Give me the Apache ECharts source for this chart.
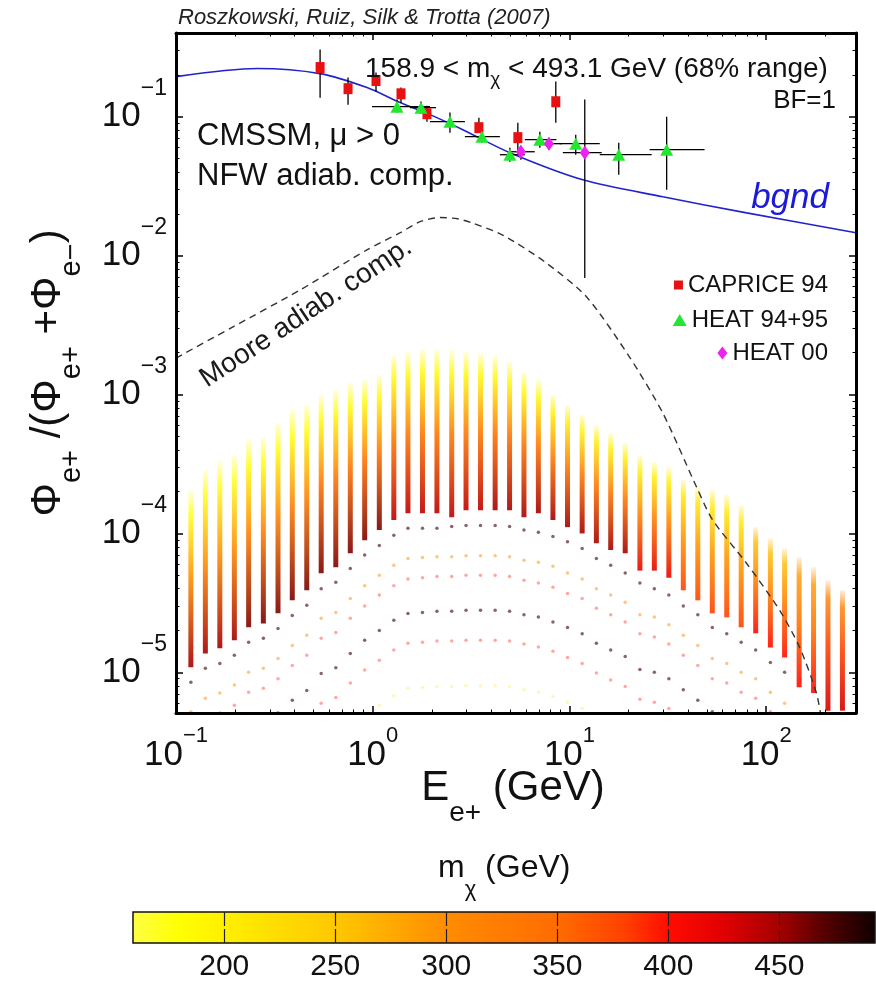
<!DOCTYPE html>
<html><head><meta charset="utf-8">
<script src="https://cdn.jsdelivr.net/npm/echarts@6/dist/echarts.min.js"></script>
<style>html,body{margin:0;padding:0;background:#fff}#chart{width:876px;height:985px}</style>
</head><body><div id="chart"></div>
<script>
// ================= DATA =================
// axis ranges / ticks
const xRange = [0.1, 286];
const yRange = [5.1e-6, 0.40];
const xMajor = [0.1, 1, 10, 100];
const xMinor = [0.2,0.3,0.4,0.5,0.6,0.7,0.8,0.9,2,3,4,5,6,7,8,9,20,30,40,50,60,70,80,90,200];
const yMajor = [1e-5, 1e-4, 1e-3, 1e-2, 1e-1];
const yMinor = [6e-6,7e-6,8e-6,9e-6,2e-5,3e-5,4e-5,5e-5,6e-5,7e-5,8e-5,9e-5,
  2e-4,3e-4,4e-4,5e-4,6e-4,7e-4,8e-4,9e-4,2e-3,3e-3,4e-3,5e-3,6e-3,7e-3,8e-3,9e-3,
  2e-2,3e-2,4e-2,5e-2,6e-2,7e-2,8e-2,9e-2,0.2,0.3];
const cbarRange = [158.9, 493.1];
const cbarTicks = [200, 250, 300, 350, 400, 450];

// model scan: energy columns, dense band top/bottom, neutralino mass along band
const stripeE = [0.119,0.141,0.167,0.198,0.234,0.278,0.330,0.390,0.462,0.547,0.649,0.769,0.910,1.08,1.28,1.51,1.79,2.12,2.52,2.98,3.53,4.19,4.96,5.87,6.95,8.24,9.77,11.6,13.7,16.2,19.2,22.8,27.0,32.0,37.9,44.9,53.2,63.0,74.6,88.4,105,124,147,174,206,244];
const stripeTop = [2.05e-4,2.86e-4,3.37e-4,3.66e-4,4.70e-4,4.94e-4,6.23e-4,7.73e-4,8.40e-4,9.92e-4,1.08e-3,1.21e-3,1.27e-3,1.38e-3,1.93e-3,2.02e-3,2.09e-3,2.09e-3,2.09e-3,2.02e-3,1.99e-3,1.90e-3,1.72e-3,1.45e-3,1.27e-3,9.92e-4,8.40e-4,7.12e-4,6.03e-4,5.28e-4,4.47e-4,3.66e-4,3.26e-4,3.00e-4,2.42e-4,2.15e-4,2.05e-4,1.89e-4,1.60e-4,1.11e-4,9.24e-5,7.83e-5,6.74e-5,5.71e-5,4.60e-5,3.90e-5];
const stripeBottom = [1.09e-5,1.37e-5,1.49e-5,1.70e-5,2.11e-5,2.25e-5,2.66e-5,3.30e-5,3.90e-5,5.17e-5,5.71e-5,7.21e-5,8.94e-5,1.06e-4,1.25e-4,1.40e-4,1.40e-4,1.40e-4,1.31e-4,1.47e-4,1.47e-4,1.47e-4,1.47e-4,1.31e-4,1.40e-4,1.25e-4,1.11e-4,1.00e-4,8.5e-5,7.6e-5,7.2e-5,5.4e-5,5.4e-5,4.8e-5,3.9e-5,3.3e-5,2.66e-5,2.49e-5,2.11e-5,1.91e-5,1.51e-5,1.28e-5,7.8e-6,7.1e-6,5.3e-6,5.3e-6];
const stripeMassTop = [175,175,175,175,180,180,180,180,180,185,185,185,185,185,185,185,185,185,185,185,185,190,190,190,190,200,200,200,200,200,200,200,200,200,210,210,210,210,210,260,260,260,290,290,320,320];
const stripeMassMid = [300,300,300,300,320,320,320,320,320,340,340,340,340,340,330,330,330,330,330,330,330,340,340,340,340,330,330,330,330,330,330,310,310,310,290,290,290,290,290,320,320,320,340,340,380,380];
const stripeMassBot = [450,450,450,450,460,460,460,460,460,460,460,460,460,460,440,440,440,440,440,440,440,450,450,450,450,450,450,450,450,450,450,420,420,420,380,380,380,380,380,400,400,400,400,400,430,430];

// sparse model points below the dense band (one value per energy column)
const arcA = [8.5e-6,1.07e-5,1.16e-5,1.33e-5,1.65e-5,1.76e-5,2.07e-5,2.57e-5,3.04e-5,4.0e-5,4.45e-5,5.6e-5,7.0e-5,8.2e-5,9.7e-5,1.09e-4,1.09e-4,1.09e-4,1.12e-4,1.14e-4,1.14e-4,1.14e-4,1.12e-4,1.06e-4,1.02e-4,9.5e-5,8.7e-5,7.8e-5,6.6e-5,5.9e-5,5.2e-5,4.4e-5,4.0e-5,3.6e-5,3.0e-5,2.6e-5,2.1e-5,1.9e-5,1.65e-5,1.45e-5,1.18e-5,1.0e-5,null,null,null,null];
const arcB = [5.2e-6,6.5e-6,7.1e-6,8.1e-6,1.0e-5,1.07e-5,1.26e-5,1.56e-5,1.85e-5,2.45e-5,2.7e-5,3.4e-5,4.2e-5,5.0e-5,5.9e-5,6.6e-5,6.7e-5,6.8e-5,6.8e-5,6.9e-5,6.9e-5,6.9e-5,6.8e-5,6.4e-5,6.2e-5,5.8e-5,5.2e-5,4.7e-5,4.0e-5,3.6e-5,3.2e-5,2.6e-5,2.5e-5,2.2e-5,1.85e-5,1.56e-5,1.26e-5,1.16e-5,1.0e-5,9.0e-6,7.2e-6,6.0e-6,null,null,null,null];
const arcC = [null,null,5.1e-6,5.8e-6,7.2e-6,7.7e-6,9.0e-6,1.12e-5,1.33e-5,1.76e-5,1.94e-5,2.45e-5,3.0e-5,3.6e-5,4.2e-5,4.7e-5,4.8e-5,4.9e-5,4.9e-5,5.0e-5,5.0e-5,5.0e-5,4.9e-5,4.6e-5,4.4e-5,4.1e-5,3.7e-5,3.4e-5,2.9e-5,2.6e-5,2.3e-5,1.9e-5,1.8e-5,1.6e-5,1.33e-5,1.12e-5,9.0e-6,8.4e-6,7.2e-6,6.5e-6,5.2e-6,null,null,null,null,null];
const arcD = [null,null,null,null,null,null,5.1e-6,6.3e-6,7.4e-6,9.8e-6,1.08e-5,1.37e-5,1.7e-5,2.0e-5,2.37e-5,2.65e-5,2.7e-5,2.75e-5,2.75e-5,2.8e-5,2.8e-5,2.8e-5,2.75e-5,2.6e-5,2.5e-5,2.3e-5,2.1e-5,1.9e-5,1.62e-5,1.45e-5,1.3e-5,1.05e-5,1.0e-5,9.0e-6,7.5e-6,6.3e-6,5.2e-6,null,null,null,null,null,null,null,null,null];
const arcE = [null,null,null,null,null,null,null,null,null,6.0e-6,6.6e-6,8.4e-6,1.04e-5,1.22e-5,1.45e-5,1.62e-5,1.65e-5,1.68e-5,1.68e-5,1.7e-5,1.7e-5,1.7e-5,1.68e-5,1.6e-5,1.52e-5,1.42e-5,1.28e-5,1.16e-5,9.9e-6,8.8e-6,7.9e-6,6.4e-6,6.1e-6,5.5e-6,null,null,null,null,null,null,null,null,null,null,null,null];
const arcF = [null,null,null,null,null,null,null,null,null,null,null,null,null,5.8e-6,6.8e-6,7.7e-6,7.8e-6,7.9e-6,7.9e-6,8.0e-6,8.0e-6,8.0e-6,7.9e-6,7.5e-6,7.2e-6,6.7e-6,6.1e-6,5.5e-6,null,null,null,null,null,null,null,null,null,null,null,null,null,null,null,null,null,null];
const arcMass = [480, 310, 400, 480, 400, 220];

// background curve and Moore profile curve
const bgndE = [0.1,0.259,0.540,0.935,1.376,1.954,2.87,4.98,11.7,29.8,79.5,286];
const bgndF = [0.194,0.222,0.204,0.1618,0.1262,0.1034,0.0806,0.0550,0.0351,0.0265,0.0203,0.0146];
const mooreE = [0.1,0.195,0.428,0.935,1.38,1.75,2.2,2.7,3.2,4.6,7.5,12.2,20.2,29.8,44.3,53.4,79.4,117,148,180,190];
const mooreF = [1.83e-3,3.07e-3,5.66e-3,0.0110,0.0146,0.0176,0.0188,0.0184,0.0172,0.0140,9.0e-3,5.05e-3,1.86e-3,7.36e-4,2.15e-4,1.25e-4,6.1e-5,2.8e-5,1.51e-5,7.1e-6,4.8e-6];

// experimental data
const capriceE  = [0.540,0.749,1.039,1.392,1.886,3.464,5.465,8.52];
const capriceF  = [0.2255,0.159,0.182,0.146,0.105,0.0833,0.0706,0.128];
const capriceLo = [0.137,0.122,0.151,0.126,0.092,0.0767,0.0550,0.0905];
const capriceHi = [0.304,0.191,0.2075,0.162,0.120,0.0983,0.0905,0.179];

const heat9495E   = [1.328,1.759,2.469,3.588,4.977,7.07,10.76,17.80,31.19];
const heat9495F   = [0.118,0.1161,0.0920,0.0718,0.0532,0.0683,0.0639,0.0532,0.0578];
const heat9495Elo = [0.992,1.547,1.954,2.941,4.428,5.93,8.93,14.25,25.56];
const heat9495Ehi = [1.954,2.096,2.941,4.428,5.93,8.58,14.25,26.17,48.6];
const heat9495Lo  = [0.1069,0.1051,0.0767,0.065,0.0474,0.0598,0.0532,0.0382,0.0298];
const heat9495Hi  = [0.1326,0.1283,0.1069,0.0806,0.0598,0.078,0.0742,0.065,0.1];

const heat00E   = [5.66,7.86,11.96];
const heat00F   = [0.0559,0.0639,0.0550];
const heat00Elo = [4.977,6.82,9.25];
const heat00Ehi = [6.66,9.14,14.59];
const heat00Lo  = [0.049,0.0578,0.00691];
const heat00Hi  = [0.0618,0.0706,0.1326];

// colour map (mass -> colour)
const cbarMass = [158.9,180,200,250,300,350,380,400,425,450,470,493.1];
const cbarRGB = [[255,255,70],[255,255,0],[255,240,0],[255,200,0],[255,140,0],[255,108,0],[255,65,0],[255,12,0],[225,0,0],[165,0,0],[85,0,0],[15,0,0]];

// ================= STYLE / BUILD =================
const FONT = "'Liberation Sans', Arial, Helvetica, sans-serif";
const arcOpacity = [0.75, 0.6, 0.45, 0.75, 0.45, 0.35];

function massRGB(m) {
  if (m <= cbarMass[0]) return cbarRGB[0];
  for (let i = 1; i < cbarMass.length; i++) {
    if (m <= cbarMass[i]) {
      const t = (m - cbarMass[i-1]) / (cbarMass[i] - cbarMass[i-1]);
      return cbarRGB[i-1].map((c, j) => Math.round(c + t * (cbarRGB[i][j] - c)));
    }
  }
  return cbarRGB[cbarRGB.length - 1];
}
function massRGBA(m, a) { const c = massRGB(m); return 'rgba(' + c[0] + ',' + c[1] + ',' + c[2] + ',' + a + ')'; }

function supLabel(v) {
  const e = Math.round(Math.log10(v));
  return '{b|10}{s|' + (e < 0 ? '\u2212' + (-e) : String(e)) + '}';
}

const stripeData = stripeE.map((e, k) => [e, stripeTop[k], stripeBottom[k], stripeMassTop[k], stripeMassMid[k], stripeMassBot[k]]);
const arcs = [arcA, arcB, arcC, arcD, arcE, arcF];
const arcData = [];
arcs.forEach((arc, i) => arc.forEach((v, k) => { if (v != null) arcData.push([stripeE[k], v, arcMass[i], i]); }));

const errData = [];
capriceE.forEach((e, i) => errData.push([e, capriceF[i], 0, 0, capriceLo[i], capriceHi[i]]));
heat9495E.forEach((e, i) => errData.push([e, heat9495F[i], heat9495Elo[i], heat9495Ehi[i], heat9495Lo[i], heat9495Hi[i]]));
heat00E.forEach((e, i) => errData.push([e, heat00F[i], heat00Elo[i], heat00Ehi[i], heat00Lo[i], heat00Hi[i]]));

const labelRichX = {
  b: { fontSize: 35, lineHeight: 60, fontFamily: FONT, color: '#111' },
  s: { fontSize: 22, lineHeight: 22, verticalAlign: 'top', fontFamily: FONT, color: '#111' }
};
const labelRichY = {
  b: { fontSize: 35, lineHeight: 78, fontFamily: FONT, color: '#111' },
  s: { fontSize: 23, lineHeight: 23, verticalAlign: 'top', fontFamily: FONT, color: '#111' }
};

function mainAxis(type, pos, ticks, len, width, showLine, label) {
  const ax = {
    type: 'log', gridIndex: 0, position: pos, z: 10,
    min: type === 'x' ? xRange[0] : yRange[0],
    max: type === 'x' ? xRange[1] : yRange[1],
    axisLine: { show: showLine, onZero: false, lineStyle: { color: '#000', width: 3 } },
    axisTick: { show: true, inside: true, length: len, customValues: ticks, lineStyle: { color: '#000', width: width } },
    axisLabel: { show: false },
    splitLine: { show: false }
  };
  if (label) {
    ax.axisLabel = {
      show: true, customValues: ticks, formatter: supLabel,
      margin: type === 'x' ? 12 : 9,
      rich: type === 'x' ? labelRichX : labelRichY
    };
  }
  return ax;
}

const option = {
  animation: false,
  backgroundColor: '#fff',
  grid: [
    { left: 176, right: 20, top: 33, bottom: 272, containLabel: false },
    { left: 133, right: 1, top: 912, height: 31, containLabel: false }
  ],
  xAxis: [
    mainAxis('x', 'bottom', xMajor, 7, 1.5, true, true),
    mainAxis('x', 'bottom', xMinor, 3.5, 1, false, false),
    mainAxis('x', 'top', xMajor, 7, 1.5, true, false),
    mainAxis('x', 'top', xMinor, 3.5, 1, false, false),
    { type: 'value', gridIndex: 1, position: 'bottom', min: cbarRange[0], max: cbarRange[1], z: 10,
      axisLine: { show: false },
      axisTick: { show: true, inside: true, length: 14, customValues: cbarTicks, lineStyle: { color: '#222', width: 1.2 } },
      axisLabel: { show: true, customValues: cbarTicks, margin: 9, fontSize: 30, fontFamily: FONT, color: '#111' },
      splitLine: { show: false } },
    { type: 'value', gridIndex: 1, position: 'top', min: cbarRange[0], max: cbarRange[1], z: 10,
      axisLine: { show: false },
      axisTick: { show: true, inside: true, length: 14, customValues: cbarTicks, lineStyle: { color: '#222', width: 1.2 } },
      axisLabel: { show: false }, splitLine: { show: false } }
  ],
  yAxis: [
    mainAxis('y', 'left', yMajor, 7, 1.5, true, true),
    mainAxis('y', 'left', yMinor, 3.5, 1, false, false),
    mainAxis('y', 'right', yMajor, 7, 1.5, true, false),
    mainAxis('y', 'right', yMinor, 3.5, 1, false, false),
    { type: 'value', gridIndex: 1, min: 0, max: 1, show: false }
  ],
  legend: [
    { data: ['CAPRICE 94'], right: 48, top: 273, padding: 0, itemWidth: 9, itemHeight: 9, icon: 'rect', selectedMode: false,
      textStyle: { fontSize: 24, lineHeight: 24, fontFamily: FONT, color: '#111' } },
    { data: ['HEAT 94+95'], right: 48, top: 308, padding: 0, itemWidth: 14, itemHeight: 12, icon: 'triangle', selectedMode: false,
      textStyle: { fontSize: 24, lineHeight: 24, fontFamily: FONT, color: '#111' } },
    { data: ['HEAT 00'], right: 48, top: 341, padding: 0, itemWidth: 10, itemHeight: 13, icon: 'diamond', selectedMode: false,
      textStyle: { fontSize: 24, lineHeight: 24, fontFamily: FONT, color: '#111' } }
  ],
  series: [
    { name: 'scan', type: 'custom', xAxisIndex: 0, yAxisIndex: 0, clip: true, z: 2,
      data: stripeData, encode: { x: 0, y: 1 },
      renderItem: function (params, api) {
        const E = api.value(0), top = api.value(1), bot = api.value(2);
        const p1 = api.coord([E, top]), p2 = api.coord([E, bot]);
        const mt = api.value(3), mm = api.value(4), mb = api.value(5);
        return { type: 'rect',
          shape: { x: p1[0] - 2.5, y: p1[1], width: 5, height: p2[1] - p1[1] },
          style: { fill: new echarts.graphic.LinearGradient(0, 0, 0, 1, [
            { offset: 0, color: massRGBA(mt, 0.12) },
            { offset: 0.14, color: massRGBA(mt, 0.8) },
            { offset: 0.5, color: massRGBA(mm, 0.88) },
            { offset: 1, color: massRGBA(mb, 0.9) } ]) } };
      } },
    { name: 'models', type: 'scatter', xAxisIndex: 0, yAxisIndex: 0, z: 2, symbolSize: 3.5,
      data: arcData,
      itemStyle: { color: function (p) { return massRGBA(p.value[2], arcOpacity[p.value[3]]); } } },
    { name: 'bgnd', type: 'line', xAxisIndex: 0, yAxisIndex: 0, z: 3, symbol: 'none', smooth: 0.3,
      data: bgndE.map((e, i) => [e, bgndF[i]]),
      lineStyle: { color: '#2222cc', width: 1.6 } },
    { name: 'Moore', type: 'line', xAxisIndex: 0, yAxisIndex: 0, z: 3, symbol: 'none', smooth: 0.25,
      data: mooreE.map((e, i) => [e, mooreF[i]]),
      lineStyle: { color: '#333', width: 1.4, type: [7, 5] } },
    { name: 'errors', type: 'custom', xAxisIndex: 0, yAxisIndex: 0, z: 4, clip: true,
      data: errData, encode: { x: 0, y: 1 },
      renderItem: function (params, api) {
        const E = api.value(0), v = api.value(1), el = api.value(2), eh = api.value(3), lo = api.value(4), hi = api.value(5);
        const a = api.coord([E, lo]), b = api.coord([E, hi]);
        const ch = [{ type: 'line', shape: { x1: a[0], y1: a[1], x2: b[0], y2: b[1] }, style: { stroke: '#000', lineWidth: 1.3 } }];
        if (el > 0) {
          const c = api.coord([el, v]), d = api.coord([eh, v]);
          ch.push({ type: 'line', shape: { x1: c[0], y1: c[1], x2: d[0], y2: d[1] }, style: { stroke: '#000', lineWidth: 1.3 } });
        }
        return { type: 'group', children: ch };
      } },
    { name: 'CAPRICE 94', type: 'scatter', xAxisIndex: 0, yAxisIndex: 0, z: 5, symbol: 'rect', symbolSize: [9, 11],
      data: capriceE.map((e, i) => [e, capriceF[i]]), itemStyle: { color: '#e81010', opacity: 1 } },
    { name: 'HEAT 94+95', type: 'scatter', xAxisIndex: 0, yAxisIndex: 0, z: 5, symbol: 'triangle', symbolSize: [13, 12],
      data: heat9495E.map((e, i) => [e, heat9495F[i]]), itemStyle: { color: '#22e630', opacity: 1 } },
    { name: 'HEAT 00', type: 'scatter', xAxisIndex: 0, yAxisIndex: 0, z: 5, symbol: 'diamond', symbolSize: [10, 14],
      data: heat00E.map((e, i) => [e, heat00F[i]]), itemStyle: { color: '#ee22ee', opacity: 1 } },
    { name: 'colorbar', type: 'custom', xAxisIndex: 4, yAxisIndex: 4, z: 2,
      data: [[cbarRange[0], cbarRange[1]]], encode: { x: [0, 1] },
      renderItem: function (params, api) {
        const m0 = api.value(0), m1 = api.value(1);
        const a = api.coord([m0, 0]), b = api.coord([m1, 1]);
        const stops = cbarMass.map((m, i) => ({ offset: (m - m0) / (m1 - m0), color: 'rgb(' + cbarRGB[i].join(',') + ')' }));
        return { type: 'rect', shape: { x: a[0], y: b[1], width: b[0] - a[0], height: a[1] - b[1] },
          style: { fill: new echarts.graphic.LinearGradient(0, 0, 1, 0, stops), stroke: '#111', lineWidth: 1.5 } };
      } }
  ],
  graphic: [
    { type: 'text', x: 178, y: 18, z: 20, style: { text: 'Roszkowski, Ruiz, Silk & Trotta (2007)', fontSize: 22, fontStyle: 'italic', fontFamily: FONT, fill: '#222', align: 'left', verticalAlign: 'middle' } },
    { type: 'text', x: 365, y: 55, z: 20, style: { text: '{a|158.9 < m}{s|\u03c7}{a| < 493.1 GeV (68% range)}', align: 'left', verticalAlign: 'top',
        rich: { a: { fontSize: 28, lineHeight: 30, verticalAlign: 'top', fontFamily: FONT, fill: '#111', color: '#111' },
                s: { fontSize: 19, lineHeight: 19, verticalAlign: 'top', padding: [15, 0, 0, 0], fontFamily: FONT, fill: '#111', color: '#111' } } } },
    { type: 'text', x: 836, y: 101, z: 20, style: { text: 'BF=1', fontSize: 26, fontFamily: FONT, fill: '#111', align: 'right', verticalAlign: 'middle' } },
    { type: 'text', x: 197, y: 136, z: 20, style: { text: 'CMSSM, \u03bc > 0', fontSize: 31, fontFamily: FONT, fill: '#111', align: 'left', verticalAlign: 'middle' } },
    { type: 'text', x: 197, y: 176, z: 20, style: { text: 'NFW adiab. comp.', fontSize: 31, fontFamily: FONT, fill: '#111', align: 'left', verticalAlign: 'middle' } },
    { type: 'text', x: 829, y: 198, z: 20, style: { text: 'bgnd', fontSize: 35, fontStyle: 'italic', fontFamily: FONT, fill: '#1a1ad8', align: 'right', verticalAlign: 'middle' } },
    { type: 'text', x: 306, y: 313, rotation: 0.585, z: 20, style: { text: 'Moore adiab. comp.', fontSize: 28, fontFamily: FONT, fill: '#1a1a1a', align: 'center', verticalAlign: 'middle' } },
    { type: 'text', x: 50, y: 373, rotation: Math.PI / 2, z: 20, style: {
        text: '{n|\u03a6}{s|e+}{n| /(\u03a6}{s|e+}{n| +\u03a6}{s|e\u2212}{n|)}', align: 'center', verticalAlign: 'middle',
        rich: { n: { fontSize: 42, lineHeight: 46, verticalAlign: 'top', fontFamily: FONT, fill: '#111', color: '#111' },
                s: { fontSize: 29, lineHeight: 29, verticalAlign: 'top', padding: [30, 0, 0, 0], fontFamily: FONT, fill: '#111', color: '#111' } } } },
    { type: 'text', x: 513, y: 767, z: 20, style: {
        text: '{n|E}{s|e+}{n| (GeV)}', align: 'center', verticalAlign: 'top',
        rich: { n: { fontSize: 42, lineHeight: 48, verticalAlign: 'top', fontFamily: FONT, fill: '#111', color: '#111' },
                s: { fontSize: 28, lineHeight: 28, verticalAlign: 'top', padding: [32, 0, 0, 0], fontFamily: FONT, fill: '#111', color: '#111' } } } },
    { type: 'text', x: 438, y: 852, z: 20, style: {
        text: '{n|m}{s|\u03c7}{n| (GeV)}', align: 'left', verticalAlign: 'top',
        rich: { n: { fontSize: 32, lineHeight: 36, verticalAlign: 'top', fontFamily: FONT, fill: '#111', color: '#111' },
                s: { fontSize: 22, lineHeight: 22, verticalAlign: 'top', padding: [27, 0, 0, 0], fontFamily: FONT, fill: '#111', color: '#111' } } } }
  ]
};

const chart = echarts.init(document.getElementById('chart'), null, { renderer: 'canvas' });
chart.setOption(option);
</script>
</body></html>
